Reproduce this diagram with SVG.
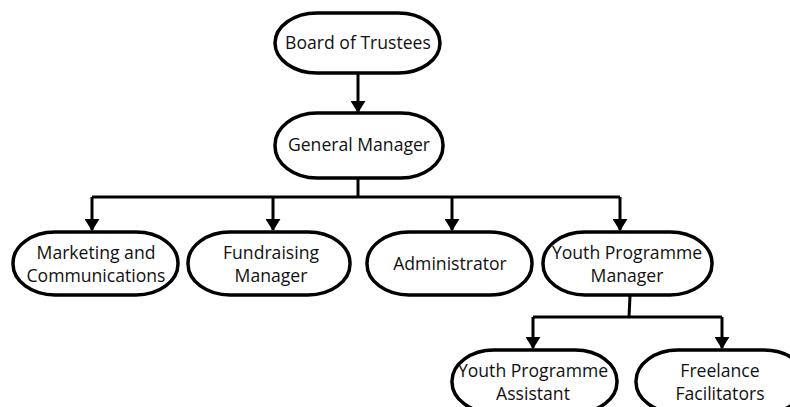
<svg xmlns="http://www.w3.org/2000/svg" width="790" height="407" viewBox="0 0 790 407">
<defs>
<marker id="ah" markerWidth="4" markerHeight="5" refX="3.7" refY="2.5" orient="auto" markerUnits="strokeWidth">
<path d="M0,0 L4,2.5 L0,5 Z" fill="#000"/>
</marker>
<style>
.n{fill:#fff;stroke:#000;stroke-width:3.5}
.t{font-family:"Open Sans","Noto Sans",sans-serif;font-size:17.6px;fill:#111;text-anchor:middle}
.c{fill:none;stroke:#000;stroke-width:3}
</style>
</defs>
<rect width="790" height="407" fill="#fff"/>
<g id="connectors">
<path class="c" d="M358,73 V112" marker-end="url(#ah)"/>
<path class="c" d="M358,178 V197"/>
<path class="c" d="M92,197 H620"/>
<path class="c" d="M92,197 V230" marker-end="url(#ah)"/>
<path class="c" d="M273,197 V230" marker-end="url(#ah)"/>
<path class="c" d="M452,197 V230" marker-end="url(#ah)"/>
<path class="c" d="M620,197 V230" marker-end="url(#ah)"/>
<path class="c" d="M630,296 L629,317"/>
<path class="c" d="M533,317 H722"/>
<path class="c" d="M533,317 V348" marker-end="url(#ah)"/>
<path class="c" d="M722,317 V348" marker-end="url(#ah)"/>
</g>
<g id="board">
<rect class="n" x="275" y="13" width="165" height="60" rx="42" ry="30"/>
<text class="t" x="358" y="49">Board of Trustees</text>
</g>
<g id="gm">
<rect class="n" x="275" y="113" width="168" height="65" rx="42" ry="32"/>
<text class="t" x="359" y="151">General Manager</text>
</g>
<g id="marketing">
<rect class="n" x="13" y="232" width="165" height="63" rx="42" ry="31"/>
<text class="t" x="96" y="259">Marketing and</text>
<text class="t" x="96" y="282">Communications</text>
</g>
<g id="fundraising">
<rect class="n" x="188" y="232" width="162" height="63" rx="42" ry="31"/>
<text class="t" x="271" y="259">Fundraising</text>
<text class="t" x="271" y="282">Manager</text>
</g>
<g id="admin">
<rect class="n" x="367" y="232" width="165" height="63" rx="42" ry="31"/>
<text class="t" x="450" y="270">Administrator</text>
</g>
<g id="ypm">
<rect class="n" x="543" y="232" width="169" height="63" rx="42" ry="31"/>
<text class="t" x="627" y="259">Youth Programme</text>
<text class="t" x="627" y="282">Manager</text>
</g>
<g id="ypa">
<rect class="n" x="452" y="350" width="165" height="63" rx="42" ry="31"/>
<text class="t" x="533" y="377">Youth Programme</text>
<text class="t" x="533" y="400">Assistant</text>
</g>
<g id="freelance">
<rect class="n" x="636" y="350" width="170" height="63" rx="42" ry="31"/>
<text class="t" x="720" y="377">Freelance</text>
<text class="t" x="720" y="400">Facilitators</text>
</g>
</svg>
